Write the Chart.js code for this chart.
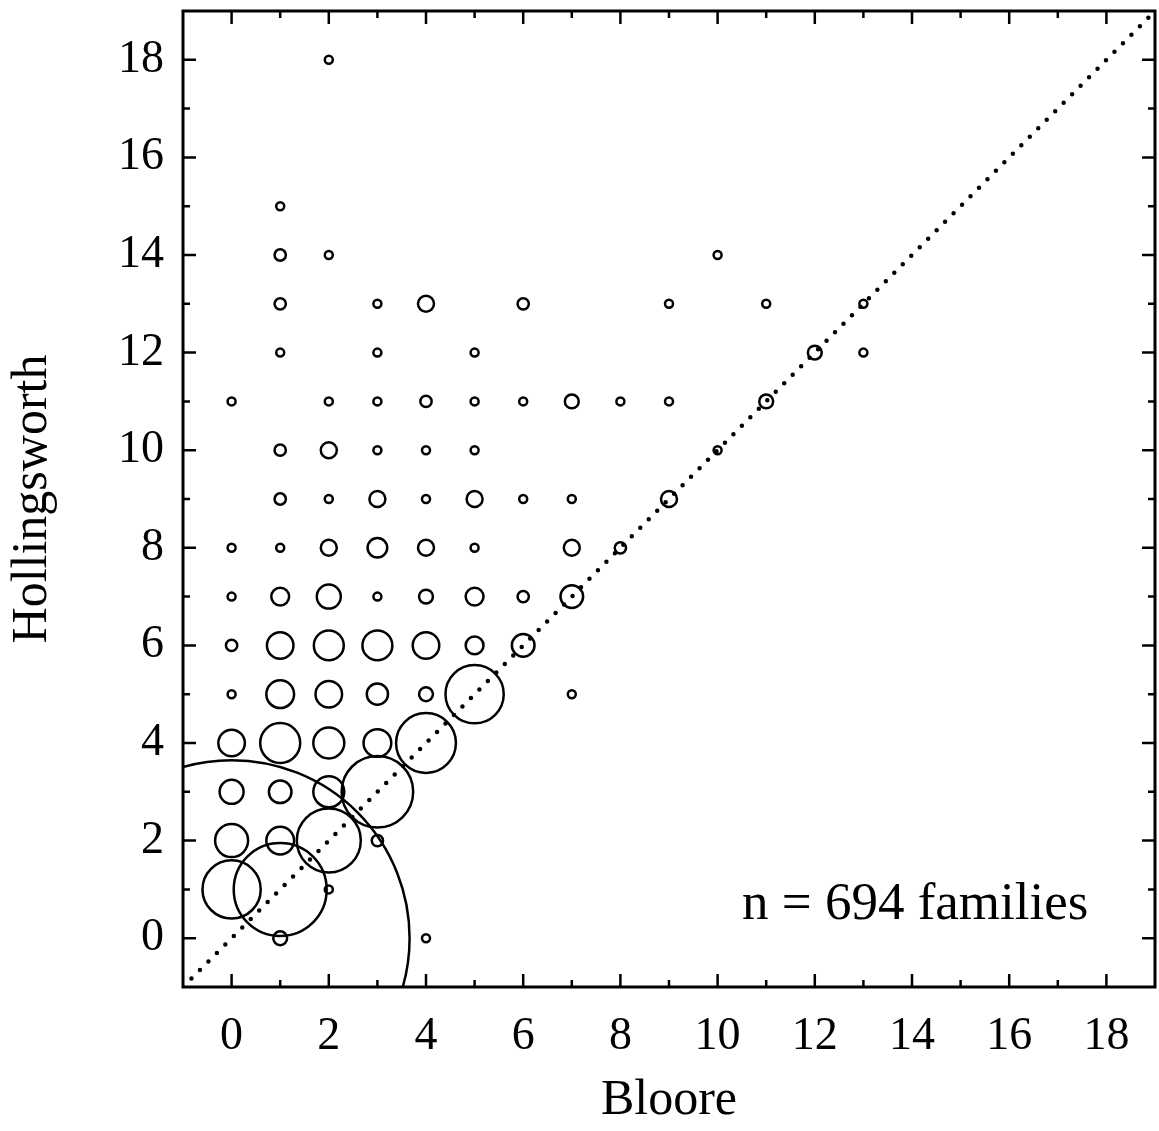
<!DOCTYPE html>
<html>
<head>
<meta charset="utf-8">
<script src="https://cdn.jsdelivr.net/npm/chart.js@4.4.1/dist/chart.umd.min.js"></script>
<style>
  html, body { margin: 0; padding: 0; background: #fff; }
  #wrap { width: 1159px; height: 1131px; }
</style>
</head>
<body>
<div id="wrap"><canvas id="chart" width="1159" height="1131"></canvas></div>
<script>
// one entry per circle: Bloore score, Hollingsworth score, families in that cell
const bloore = [
  2,
  1,
  1, 2, 10,
  1, 3, 4, 6, 9, 11, 13,
  1, 3, 5, 12, 13,
  0, 2, 3, 4, 5, 6, 7, 8, 9, 11,
  1, 2, 3, 4, 5, 10,
  1, 2, 3, 4, 5, 6, 7, 9,
  0, 1, 2, 3, 4, 5, 7, 8,
  0, 1, 2, 3, 4, 5, 6, 7,
  0, 1, 2, 3, 4, 5, 6,
  0, 1, 2, 3, 4, 5, 7,
  0, 1, 2, 3, 4,
  0, 1, 2, 3,
  0, 1, 2, 3,
  0, 1, 2,
  0, 1, 4
];
const hollingsworth = [
  18,
  15,
  14, 14, 14,
  13, 13, 13, 13, 13, 13, 13,
  12, 12, 12, 12, 12,
  11, 11, 11, 11, 11, 11, 11, 11, 11, 11,
  10, 10, 10, 10, 10, 10,
  9, 9, 9, 9, 9, 9, 9, 9,
  8, 8, 8, 8, 8, 8, 8, 8,
  7, 7, 7, 7, 7, 7, 7, 7,
  6, 6, 6, 6, 6, 6, 6,
  5, 5, 5, 5, 5, 5, 5,
  4, 4, 4, 4, 4,
  3, 3, 3, 3,
  2, 2, 2, 2,
  1, 1, 1,
  0, 0, 0
];
const counts = [
  1,
  1,
  2, 1, 1,
  2, 1, 4, 2, 1, 1, 1,
  1, 1, 1, 3, 1,
  1, 1, 1, 2, 1, 1, 3, 1, 1, 3,
  2, 4, 1, 1, 1, 1,
  2, 1, 4, 1, 4, 1, 1, 4,
  1, 1, 4, 6, 4, 1, 4, 2,
  1, 5, 9, 1, 3, 5, 2, 8,
  2, 11, 14, 14, 11, 5, 8,
  1, 12, 11, 7, 3, 53, 1,
  11, 25, 15, 12, 56,
  9, 8, 15, 80,
  17, 12, 64, 2,
  53, 135, 1,
  1980, 3, 1
];
const diagonal = [-1, 19];
const xTicks = [0, 2, 4, 6, 8, 10, 12, 14, 16, 18];
const yTicks = [0, 2, 4, 6, 8, 10, 12, 14, 16, 18];
const note = 'n = 694 families';

const serif = "'Liberation Serif', 'Times New Roman', serif";

function bubbleRadius(n) {
  return 4 * Math.sqrt(n);
}

const points = bloore.map((b, i) => ({ x: b, y: hollingsworth[i], r: bubbleRadius(counts[i]) }));

// frame round the plot, inward ticks on all four sides, and the n label
const frame = {
  id: 'frame',
  afterDraw(chart) {
    const { ctx, chartArea: a, scales: { x, y } } = chart;
    ctx.save();
    ctx.strokeStyle = '#000';
    ctx.lineWidth = 2.5;
    for (let v = -1; v <= 19; v++) {
      const len = v % 2 === 0 ? 13 : 7;
      const px = x.getPixelForValue(v);
      if (px > a.left + 2 && px < a.right - 2) {
        ctx.beginPath();
        ctx.moveTo(px, a.bottom); ctx.lineTo(px, a.bottom - len);
        ctx.moveTo(px, a.top); ctx.lineTo(px, a.top + len);
        ctx.stroke();
      }
      const py = y.getPixelForValue(v);
      if (py > a.top + 2 && py < a.bottom - 2) {
        ctx.beginPath();
        ctx.moveTo(a.left, py); ctx.lineTo(a.left + len, py);
        ctx.moveTo(a.right, py); ctx.lineTo(a.right - len, py);
        ctx.stroke();
      }
    }
    ctx.lineWidth = 3;
    ctx.strokeRect(a.left, a.top, a.right - a.left, a.bottom - a.top);

    ctx.fillStyle = '#000';
    ctx.font = '53px ' + serif;
    ctx.textAlign = 'right';
    ctx.textBaseline = 'alphabetic';
    ctx.fillText(note, x.getPixelForValue(17.63), y.getPixelForValue(0.4));
    ctx.restore();
  }
};

new Chart(document.getElementById('chart'), {
  data: {
    datasets: [
      {
        type: 'bubble',
        data: points,
        backgroundColor: 'rgba(0,0,0,0)',
        borderColor: '#000',
        borderWidth: 2.5,
        clip: 0
      },
      {
        type: 'line',
        data: diagonal.map(v => ({ x: v, y: v })),
        borderColor: '#000',
        borderWidth: 4.5,
        borderDash: [0, 12],
        borderCapStyle: 'round',
        pointRadius: 0,
        fill: false
      }
    ]
  },
  options: {
    responsive: false,
    devicePixelRatio: 1,
    animation: false,
    layout: { autoPadding: false, padding: { left: 0, top: 11, right: 4, bottom: 0 } },
    plugins: { legend: { display: false }, tooltip: { enabled: false } },
    scales: {
      x: {
        type: 'linear',
        min: -1,
        max: 19,
        afterBuildTicks: s => { s.ticks = xTicks.map(v => ({ value: v })); },
        afterFit: s => { s.height = 144; s.paddingLeft = 0; s.paddingRight = 0; },
        grid: { display: false, drawTicks: false },
        border: { display: false },
        ticks: { color: '#000', padding: 22, maxRotation: 0, font: { family: serif, size: 46 } },
        title: { display: true, text: 'Bloore', color: '#000', padding: 0, font: { family: serif, size: 50 } }
      },
      y: {
        type: 'linear',
        min: -1,
        max: 19,
        afterBuildTicks: s => { s.ticks = yTicks.map(v => ({ value: v })); },
        afterFit: s => { s.width = 183; s.paddingTop = 0; s.paddingBottom = 0; },
        grid: { display: false, drawTicks: false },
        border: { display: false },
        ticks: { color: '#000', padding: 19, font: { family: serif, size: 46 } },
        title: { display: true, text: 'Hollingsworth', color: '#000', padding: { top: 3, bottom: 0 }, font: { family: serif, size: 50 } }
      }
    }
  },
  plugins: [frame]
});
</script>
</body>
</html>
